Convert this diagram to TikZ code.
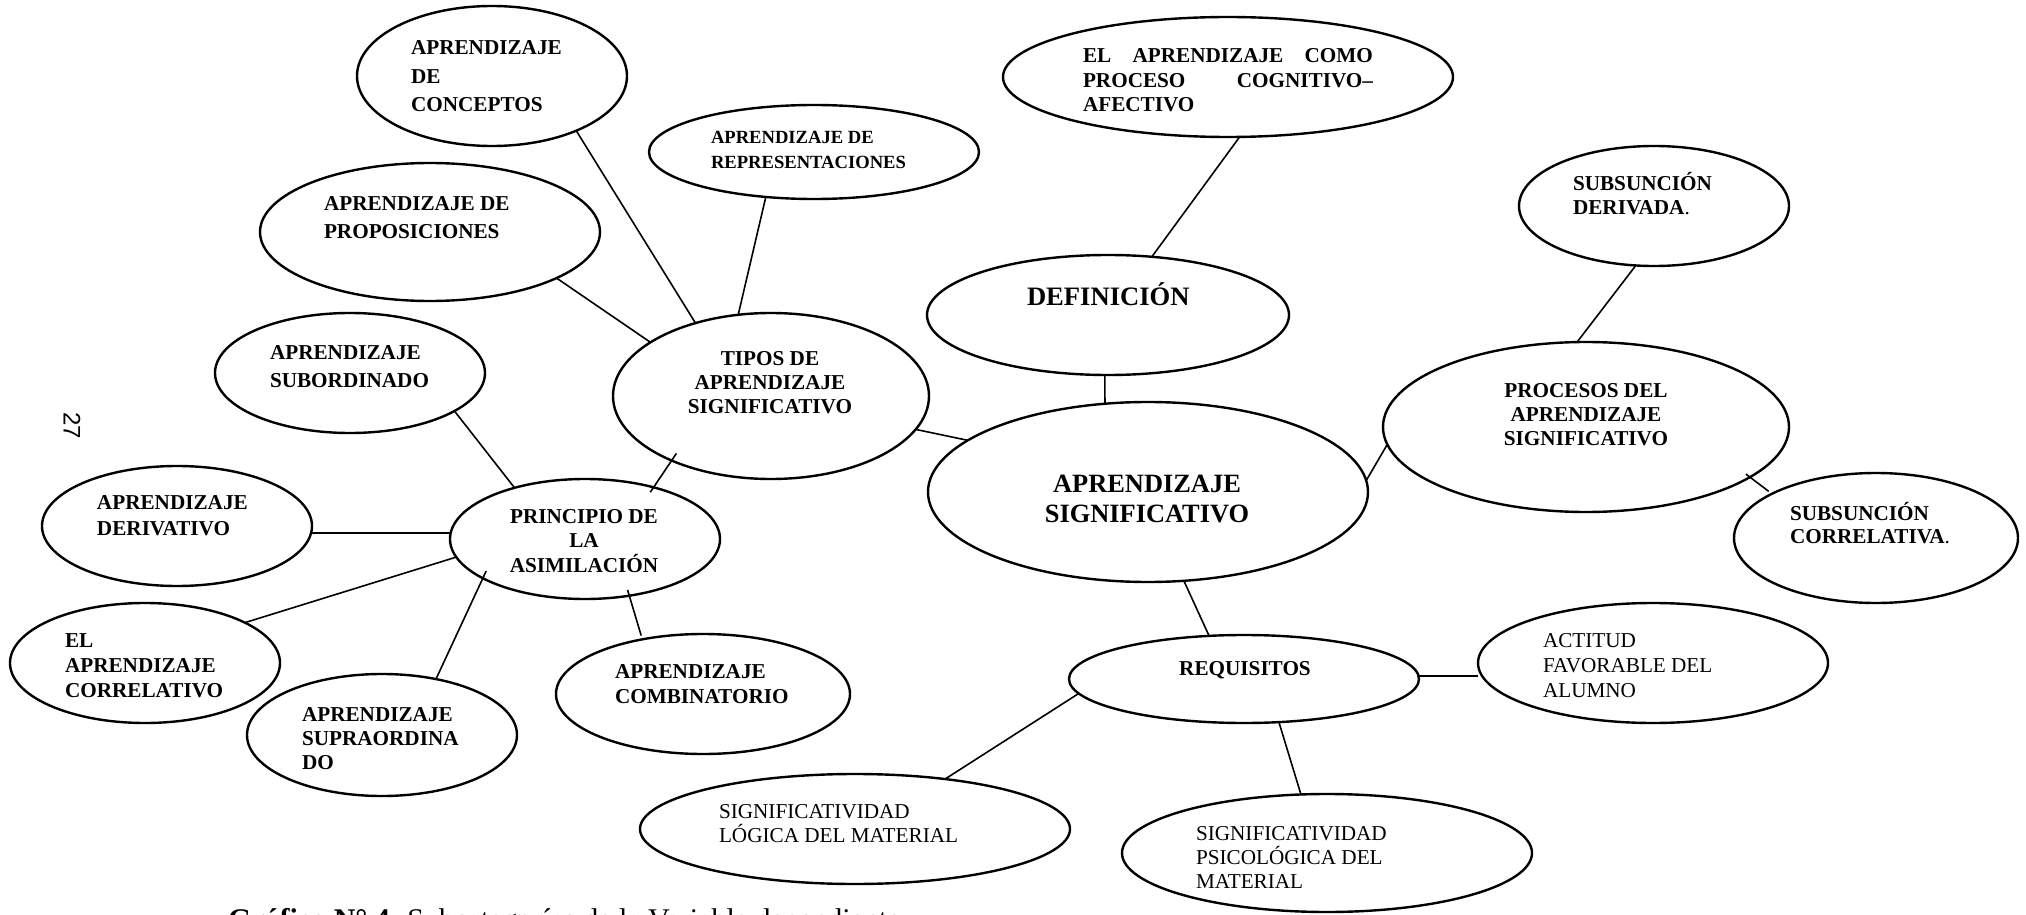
\documentclass[tikz,border=0pt]{standalone}
\usepackage{fontspec}
\setmainfont{Liberation Serif}
\newfontfamily\pagenumfont{Liberation Sans}
\usetikzlibrary{shapes.geometric}

% stacked lines: font size, line pitch, column type, rows
\newcommand\rows[4]{{\fontsize{#1}{#2}\selectfont\begin{tabular}[t]{@{}#3@{}}#4\end{tabular}}}

\tikzset{
  bub/.style={ellipse, draw, line width=1.2pt, inner sep=0pt, outer sep=0pt},
  lbl/.style={inner sep=0pt, outer sep=0pt, anchor=base west},
  clbl/.style={inner sep=0pt, outer sep=0pt, anchor=base},
  link/.style={line width=0.8pt},
  heavylink/.style={line width=1.3pt},
}

\begin{document}
\begin{tikzpicture}[x=0.5pt, y=-0.5pt]
\useasboundingbox (0,0) rectangle (2026,915);
\clip (0,0) rectangle (2026,915);

% ---------- bubbles ----------
\node[bub, minimum width=135pt, minimum height=70pt] (conc)  at (492,76)  {};
\node[bub, minimum width=165pt, minimum height=47pt] (repr)  at (814,152) {};
\node[bub, minimum width=170pt, minimum height=69pt] (prop)  at (430,232) {};
\node[bub, minimum width=135pt, minimum height=60pt] (subo)  at (350,373) {};
\node[bub, minimum width=158pt, minimum height=83pt] (tipos) at (771,396) {};
\node[bub, minimum width=225pt, minimum height=60pt] (como)  at (1228,77) {};
\node[bub, minimum width=135pt, minimum height=60pt] (sder)  at (1654,206) {};
\node[bub, minimum width=181pt, minimum height=60pt] (defi)  at (1108,315) {};
\node[bub, minimum width=203pt, minimum height=85pt] (proc)  at (1586,427) {};
\node[bub, minimum width=220pt, minimum height=90pt] (apsig) at (1148,492) {};
\node[bub, minimum width=142pt, minimum height=65pt] (scor)  at (1876,538) {};
\node[bub, minimum width=175pt, minimum height=44pt] (requ)  at (1244,679) {};
\node[bub, minimum width=175pt, minimum height=60pt] (acti)  at (1653,663) {};
\node[bub, minimum width=205pt, minimum height=59pt] (psic)  at (1327,853) {};
\node[bub, minimum width=135pt, minimum height=60pt] (prin)  at (585,539) {};
\node[bub, minimum width=135pt, minimum height=60pt] (deri)  at (177,526) {};
\node[bub, minimum width=135pt, minimum height=60pt] (corr)  at (145,663) {};
\node[bub, minimum width=135pt, minimum height=61pt] (supr)  at (382,735) {};
\node[bub, minimum width=147pt, minimum height=60pt] (comb)  at (703,694) {};
\node[bub, minimum width=215pt, minimum height=55pt] (logi)  at (855,829) {};

% ---------- texts ----------
\node[lbl] (conc-t) at (411,55) {\bfseries\rows{10.6}{14.25}{l}{APRENDIZAJE\\DE\\CONCEPTOS}};
\node[lbl] (repr-t) at (711,144) {\bfseries\rows{9.3}{12.5}{l}{APRENDIZAJE DE\\REPRESENTACIONES}};
\node[lbl] (prop-t) at (324,211) {\bfseries\rows{10.6}{13.5}{l}{APRENDIZAJE DE\\PROPOSICIONES}};
\node[lbl] (subo-t) at (270,359) {\bfseries\rows{10.6}{14}{l}{APRENDIZAJE\\SUBORDINADO}};
\node[clbl] (tipos-t) at (770,365) {\bfseries\rows{10.6}{12}{c}{TIPOS DE\\APRENDIZAJE\\SIGNIFICATIVO}};
\node[lbl] (como-t) at (1083,63) {\bfseries\rows{10.6}{12.25}{l}{%
  \makebox[145pt][s]{EL\hfill APRENDIZAJE\hfill COMO}\\
  \makebox[145pt][s]{PROCESO\hfill COGNITIVO–}\\
  AFECTIVO}};
\node[lbl] (sder-t) at (1573,191) {\bfseries\rows{10.6}{12}{l}{SUBSUNCIÓN\\DERIVADA{\mdseries.}}};
\node[lbl] (defi-t) at (1027,305) {\bfseries\fontsize{13.3}{16}\selectfont DEFINICIÓN};
\node[clbl] (proc-t) at (1586,397) {\bfseries\rows{10.6}{12}{c}{PROCESOS DEL\\APRENDIZAJE\\SIGNIFICATIVO}};
\node[clbl] (apsig-t) at (1147,492) {\bfseries\rows{13.2}{15}{c}{APRENDIZAJE\\SIGNIFICATIVO}};
\node[lbl] (scor-t) at (1790,520) {\bfseries\rows{10.6}{11.75}{l}{SUBSUNCIÓN\\CORRELATIVA{\mdseries.}}};
\node[clbl] (requ-t) at (1245,675) {\bfseries\fontsize{10.6}{12}\selectfont REQUISITOS};
\node[lbl] (acti-t) at (1543,647) {\rows{10.6}{12.5}{l}{ACTITUD\\FAVORABLE DEL\\ALUMNO}};
\node[lbl] (psic-t) at (1196,840) {\rows{10.6}{12}{l}{SIGNIFICATIVIDAD\\\smash{PSICOLÓGICA} DEL\\MATERIAL}};
\node[clbl] (prin-t) at (584,523) {\bfseries\rows{10.6}{12.25}{c}{PRINCIPIO DE\\LA\\\smash{ASIMILACIÓN}}};
\node[lbl] (deri-t) at (97,509) {\bfseries\rows{10.6}{13}{l}{APRENDIZAJE\\DERIVATIVO}};
\node[lbl] (corr-t) at (65,647) {\bfseries\rows{10.6}{12.5}{l}{EL\\APRENDIZAJE\\CORRELATIVO}};
\node[lbl] (supr-t) at (302,721) {\bfseries\rows{10.6}{12}{l}{APRENDIZAJE\\SUPRAORDINA\\DO}};
\node[lbl] (comb-t) at (615,678) {\bfseries\rows{10.6}{12.5}{l}{APRENDIZAJE\\COMBINATORIO}};
\node[lbl] (logi-t) at (719,818) {\rows{10.6}{12}{l}{SIGNIFICATIVIDAD\\\smash{LÓGICA} DEL MATERIAL}};

% page number, turned sideways
\node[inner sep=0pt, rotate=-90, font=\pagenumfont\fontsize{12}{14}\selectfont] (pnum) at (72,426) {27};

% caption, cut by the page edge
\node[lbl] (cap) at (228,929) {\fontsize{15}{18}\selectfont\textbf{Gráfico N° 4.} Subcategorías de la Variable dependiente};

% ---------- connectors ----------
\draw[link] (conc.-33.4) -- (tipos.136.5);
\draw[link] (repr.-137.4) -- (tipos.112.5);
\draw[link] (prop.-20.2) -- (tipos.156.5);
\draw[link, shorten <=-4.3pt, shorten >=-3pt] (tipos.-147.4) -- (prin.37.6);
\draw[link] (tipos.-13.2) -- (apsig.164.9);
\draw[link] (subo.-20.3) -- (prin.144.3);
\draw[heavylink] (deri.-3.8) -- (deri.-3.8 -| prin.west);
\draw[link] (corr.22.9) -- (prin.-172);
\draw[link, shorten >=-4pt] (supr.46.6) -- (prin.-159.5);
\draw[link, shorten <=2pt, shorten >=-3pt] (comb.138.7) -- (prin.-52.5);
\draw[link] (como.-79.9) -- (defi.53.4);
\draw[link] (defi.-93.8) -- (apsig.116.6);
\draw[link] (sder.-107.6) -- (proc.96.1);
\draw[link] (apsig.3.1) -- (proc.-175.4);
\draw[link, shorten <=-2.5pt, shorten >=2pt] (proc.-17.4) -- (scor.157.6);
\draw[link] (apsig.-68.7) -- (requ.129.3);
\draw[link] (requ.-175.4) -- (logi.29.8);
\draw[heavylink] (requ.1) -- (requ.1 -| acti.west);
\draw[link] (requ.-51.5) -- (psic.114.5);
\end{tikzpicture}
\end{document}
